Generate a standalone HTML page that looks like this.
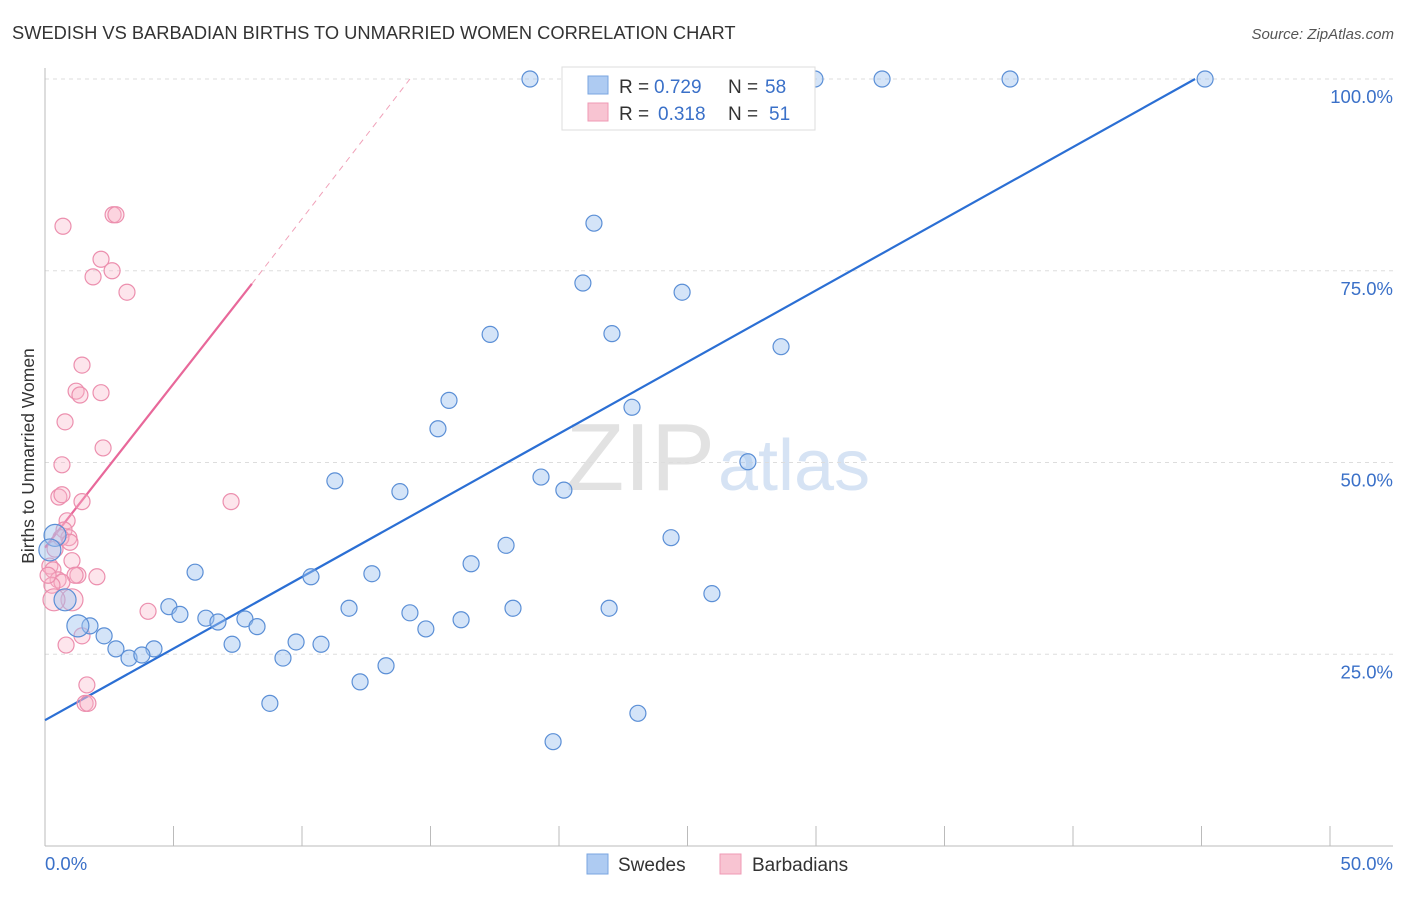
<!DOCTYPE html>
<html><head><meta charset="utf-8"><style>
body{margin:0;background:#fff;font-family:"Liberation Sans",sans-serif;}
svg text{font-family:"Liberation Sans",sans-serif;}
</style></head><body>
<svg id="chart" width="1406" height="892" xmlns="http://www.w3.org/2000/svg">
<text x="12" y="39" font-size="18.3" fill="#333">SWEDISH VS BARBADIAN BIRTHS TO UNMARRIED WOMEN CORRELATION CHART</text>
<text x="1394" y="39" font-size="15" fill="#555" text-anchor="end" font-style="italic">Source: ZipAtlas.com</text>
<text transform="translate(34,456) rotate(-90)" font-size="17.5" fill="#333" text-anchor="middle">Births to Unmarried Women</text>
<text x="715" y="490" font-size="96" text-anchor="end" fill="#e2e2e2" font-family="Liberation Serif">ZIP</text>
<text x="718" y="490" font-size="72" fill="#d6e3f4">atlas</text>
<g id="grid"></g><g id="axes"></g><g id="lines"></g><g id="pts"></g>
<g>
<rect x="562" y="67" width="253" height="63" fill="#fff" stroke="#ddd"/>
<rect x="588" y="76" width="20" height="18" fill="#aecbf2" stroke="#7aa6e0"/>
<rect x="588" y="103" width="20" height="18" fill="#f8c4d2" stroke="#ef9ab4"/>
<text x="619" y="93" font-size="19" fill="#333">R =</text>
<text x="654" y="93" font-size="19" fill="#3a70c8">0.729</text>
<text x="728" y="93" font-size="19" fill="#333">N =</text>
<text x="765" y="93" font-size="19" fill="#3a70c8">58</text>
<text x="619" y="120" font-size="19" fill="#333">R =</text>
<text x="658" y="120" font-size="19" fill="#3a70c8">0.318</text>
<text x="728" y="120" font-size="19" fill="#333">N =</text>
<text x="769" y="120" font-size="19" fill="#3a70c8">51</text>
</g>
<g>
<rect x="587" y="854" width="21" height="20" fill="#aecbf2" stroke="#7aa6e0"/>
<text x="618" y="871" font-size="19" fill="#333">Swedes</text>
<rect x="720" y="854" width="21" height="20" fill="#f8c4d2" stroke="#ef9ab4"/>
<text x="752" y="871" font-size="19" fill="#333">Barbadians</text>
</g>
</svg>
<script>
const blueX=[18.87,28.13,29.96,32.57,37.55,45.14,21.36,20.93,24.79,17.32,22.06,28.64,15.72,22.84,15.29,27.35,19.30,20.19,11.28,13.81,17.94,24.36,16.58,5.84,10.35,12.72,25.95,4.82,5.25,11.83,18.21,21.95,14.20,16.19,6.26,6.73,7.78,8.25,14.82,1.75,2.30,9.77,10.74,7.28,2.76,4.24,3.27,3.77,9.26,13.27,12.26,8.75,23.07,19.77,0.39,0.78,1.28,0.19];
const blueY=[100,100,100,100,100,100,81.2,73.4,72.2,66.7,66.8,65.1,58.1,57.2,54.4,50.1,48.1,46.4,47.6,46.2,39.2,40.2,36.8,35.7,35.1,35.5,32.9,31.2,30.2,31.0,31.0,31.0,30.4,29.5,29.7,29.2,29.6,28.6,28.3,28.7,27.4,26.6,26.3,26.3,25.7,25.7,24.5,24.9,24.5,23.5,21.4,18.6,17.3,13.6,40.5,32.1,28.7,38.6];
const pinkX=[0.70,2.65,2.76,2.18,2.61,1.87,3.19,1.44,1.21,1.36,2.18,0.78,2.26,0.66,0.54,0.66,1.44,7.24,0.86,0.74,0.93,0.62,0.97,0.39,1.05,0.19,0.31,1.28,1.17,2.02,0.51,0.66,0.27,1.05,0.35,4.01,1.44,0.82,1.63,1.56,1.67,0.12];
const pinkY=[80.8,82.3,82.3,76.5,75.0,74.2,72.2,62.7,59.3,58.8,59.1,55.3,51.9,49.7,45.5,45.8,44.9,44.9,42.4,41.2,40.2,40.2,39.6,38.7,37.2,36.5,36.0,35.3,35.3,35.1,34.7,34.4,34.0,32.1,32.1,30.6,27.4,26.2,21.0,18.6,18.6,35.3];
const yTicks=[25,50,75,100];
const blueTrend=[[0,16.4],[44.75,100]];
const pinkTrend=[[0,38.9],[8.05,73.3]];
const pinkDash=[[8.05,73.3],[14.2,100]];
const X=v=>45+v*25.7, Y=v=>846-v*7.67;
const NS="http://www.w3.org/2000/svg";
function mk(p,t,a){const e=document.createElementNS(NS,t);for(const k in a)e.setAttribute(k,a[k]);document.getElementById(p).appendChild(e);return e;}
yTicks.forEach(t=>{
 const l=mk('grid','line',{x1:45,x2:1393,y1:Y(t),y2:Y(t),stroke:'#ddd','stroke-dasharray':'4,4'});
 
 
 const tx=mk('grid','text',{x:1393,y:Y(t)+24,'font-size':18.5,fill:'#3a70c8','text-anchor':'end'});tx.textContent=t.toFixed(1)+'%';
 
 
});
const ax=mk('axes','line',{x1:45,x2:1393,y1:846,y2:846,stroke:'#bbb'});


const ay=mk('axes','line',{x1:45,x2:45,y1:68,y2:846,stroke:'#bbb'});


for(let i=0;i<=10;i++){const t=mk('axes','line',{x1:X(i*5),x2:X(i*5),y1:826,y2:846,stroke:'#bbb'});
 
 }
[['0.0%',45,'start'],['50.0%',1393,'end']].forEach(d=>{const t=mk('axes','text',{x:d[1],y:870,'font-size':18.5,fill:'#3a70c8','text-anchor':d[2]});t.textContent=d[0];
 
 });
function ln(pts,c,w,dash,name){const l=mk('lines','line',{x1:X(pts[0][0]),y1:Y(pts[0][1]),x2:X(pts[1][0]),y2:Y(pts[1][1]),stroke:c,'stroke-width':w});if(dash)l.setAttribute('stroke-dasharray',dash);
 
 }
ln(pinkDash,'#f0a0b8',1,'6,5','barbadians-trend-extension');
ln(pinkTrend,'#e8689a',2.2,null,'barbadians-trend');
ln(blueTrend,'#2b6fd4',2.2,null,'swedes-trend');
pinkX.forEach((x,i)=>{const c=mk('pts','circle',{cx:X(x),cy:Y(pinkY[i]),r:i>=33&&i<=34?11:8,fill:'rgba(248,180,200,0.35)',stroke:'#ec8fae','stroke-width':1.2});
 
 });
blueX.forEach((x,i)=>{const c=mk('pts','circle',{cx:X(x),cy:Y(blueY[i]),r:i>=54?11:8,fill:'rgba(160,195,240,0.45)',stroke:'#5b8fd6','stroke-width':1.2});
 
 });
</script>
</body></html>
